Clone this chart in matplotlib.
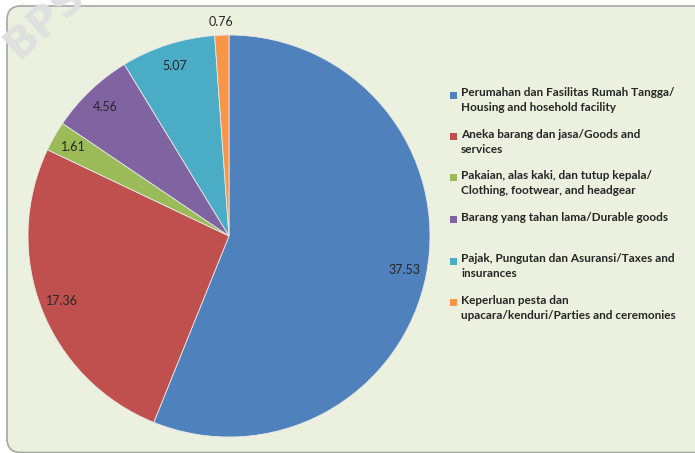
import matplotlib
matplotlib.use("Agg")
import matplotlib.pyplot as plt
from matplotlib.patches import FancyBboxPatch, Rectangle

# Data
categories = [
    "Perumahan dan Fasilitas Rumah Tangga/\nHousing and hosehold facility",
    "Aneka barang dan jasa/Goods and\nservices",
    "Pakaian, alas kaki, dan tutup kepala/\nClothing, footwear, and headgear",
    "Barang yang tahan lama/Durable goods",
    "Pajak, Pungutan dan Asuransi/Taxes and\ninsurances",
    "Keperluan pesta dan\nupacara/kenduri/Parties and ceremonies",
]
values = [37.53, 17.36, 1.61, 4.56, 5.07, 0.76]
value_labels = ["37.53", "17.36", "1.61", "4.56", "5.07", "0.76"]
colors = ["#4F81BD", "#C0504D", "#9BBB59", "#8064A2", "#4BACC6", "#F79646"]

W, H = 695, 453
fig = plt.figure(figsize=(W / 100, H / 100), dpi=100)
fig.patch.set_facecolor("white")


def px(x, y):
    """Convert pixel coords (top-left origin) to figure fraction."""
    return x / W, 1 - y / H


# chart area background box with rounded corners
bg = FancyBboxPatch(
    (7 / W, 0.5 / H), (W + 20) / W, (H - 6.5) / H,
    boxstyle="round,pad=0,rounding_size=0.02",
    transform=fig.transFigure, facecolor="#EBF1DE", edgecolor="#A6A6A6",
    linewidth=1.2, zorder=0, mutation_aspect=W / H,
)
fig.patches.append(bg)

# faded watermark in the corner
fig.text(*px(-4, 58), "BPS.go.id", rotation=42, fontsize=30, fontweight="bold",
         color="#E0E0E0", family="DejaVu Sans", zorder=1)

# pie axes
cx, cy, r = 229, 236, 201
ax = fig.add_axes([(cx - r) / W, (H - cy - r) / H, 2 * r / W, 2 * r / H])
ax.set_zorder(2)
ax.patch.set_visible(False)

label_iter = iter(value_labels)
wedges, _, autotexts = ax.pie(
    values, colors=colors, startangle=90, counterclock=False,
    autopct=lambda p: next(label_iter), pctdistance=0.89,
    wedgeprops=dict(edgecolor="#E8E8E8", linewidth=0.6),
    textprops=dict(fontsize=9, color="#262626", family="Lato"),
)
# smallest slice label sits outside the pie
x, y = autotexts[5].get_position()
scale = 1.065 / 0.89
autotexts[5].set_position((x * scale, y * scale))
ax.set_xlim(-1, 1)
ax.set_ylim(-1, 1)
ax.set_aspect("equal")
ax.axis("off")

# legend, drawn entry by entry to keep the square aligned with the first line
leg_x, leg_y0, leg_step, sq = 450, 95, 41.5, 7
for i, (name, col) in enumerate(zip(categories, colors)):
    y = leg_y0 + i * leg_step
    fig.patches.append(Rectangle(px(leg_x, y + sq / 2), sq / W, sq / H,
                                 transform=fig.transFigure, facecolor=col,
                                 edgecolor="none", zorder=3))
    fig.text(*px(leg_x + 11, y - 8), name, fontsize=8.5, fontweight="bold",
             color="#262626", family="Lato", va="top", ha="left",
             linespacing=1.45, zorder=3)

fig.savefig("out.png", dpi=100)
